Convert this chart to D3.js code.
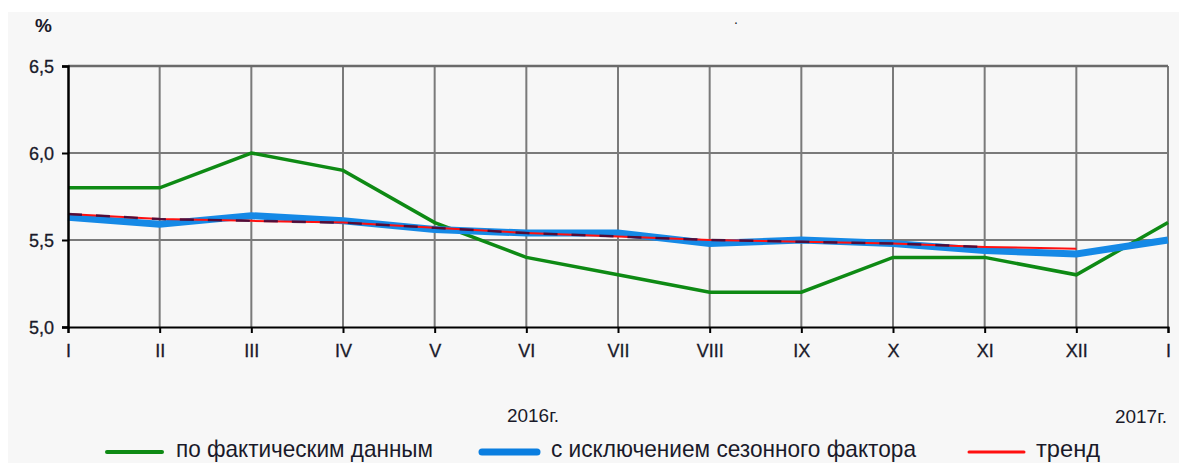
<!DOCTYPE html>
<html>
<head>
<meta charset="utf-8">
<script src="https://cdn.jsdelivr.net/npm/d3@7"></script>
<style>
  body { margin: 0; background: #fff; }
  text { font-family: "Liberation Sans", Arial, sans-serif; fill: #1a1a2a; }
</style>
</head>
<body>
<script>
// months along the x axis (2016 I..XII, then 2017 I)
var months = ['I','II','III','IV','V','VI','VII','VIII','IX','X','XI','XII','I']
var yTicks = [5.0, 5.5, 6.0, 6.5]
// series values
var actual   = [5.8, 5.8, 6.0, 5.9, 5.6, 5.4, 5.3, 5.2, 5.2, 5.4, 5.4, 5.3, 5.6]
var seasonal = [5.63, 5.59, 5.64, 5.61, 5.56, 5.54, 5.54, 5.48, 5.5, 5.48, 5.44, 5.42, 5.5]
var trend    = [5.65, 5.62, 5.61, 5.6, 5.57, 5.54, 5.52, 5.5, 5.49, 5.48, 5.46, 5.45]
var legendNames = ['по фактическим данным', 'с исключением сезонного фактора', 'тренд']

var svg = d3.select('body').append('svg')
    .attr('width', 1179)
    .attr('height', 463)

// grey panel
svg.append('rect').attr('x', 8).attr('y', 12).attr('width', 1171).attr('height', 451).style('fill', '#f7f7f7')

var x = d3.scaleLinear().domain([0, months.length - 1]).range([68, 1168])
var y = d3.scaleLinear().domain([5.0, 6.5]).range([327, 66])

var g = svg.append('g')

// vertical grid
g.selectAll('.vgrid')
  .data(d3.range(1, months.length))
  .enter().append('line')
  .attr('x1', d => x(d)).attr('x2', d => x(d))
  .attr('y1', y(6.5)).attr('y2', y(5.0))
  .style('stroke', '#7a7a7a').style('stroke-width', 2)

// horizontal grid
g.selectAll('.hgrid')
  .data(yTicks.slice(1))
  .enter().append('line')
  .attr('x1', x(0)).attr('x2', x(12))
  .attr('y1', d => y(d)).attr('y2', d => y(d))
  .style('stroke', d => d == 6.5 ? '#6a6a6a' : '#7a7a7a')
  .style('stroke-width', d => d == 6.5 ? 2.5 : 2)

// axes
var yAxis = d3.axisLeft(y).tickValues(yTicks).tickSize(6).tickFormat(d => d3.format('.1f')(d).replace('.', ','))
var xAxis = d3.axisBottom(x).tickValues(d3.range(months.length)).tickSize(6).tickFormat(i => months[i])

var ya = svg.append('g').attr('transform', 'translate(68,0)').call(yAxis)
ya.select('.domain').style('stroke', '#000').style('stroke-width', 2.5)
ya.selectAll('.tick line').style('stroke', '#000').style('stroke-width', 2)
ya.selectAll('.tick text').attr('x', -14).attr('dy', '0.36em')
  .style('font-size', '18px').style('fill', '#1a1a2a').style('stroke', '#1a1a2a').style('stroke-width', 0.3)

var xa = svg.append('g').attr('transform', 'translate(0,327)').call(xAxis)
xa.select('.domain').style('stroke', '#000').style('stroke-width', 2)
xa.selectAll('.tick line').style('stroke', '#000').style('stroke-width', 2)
xa.selectAll('.tick text').attr('y', 17)
  .style('font-size', '18px').style('fill', '#1a1a2a').style('stroke', '#1a1a2a').style('stroke-width', 0.3)

// lines
var line = d3.line().x((d, i) => x(i)).y(d => y(d))

g.append('path').datum(actual).attr('d', line)
  .style('fill', 'none').style('stroke', '#0e8a14').style('stroke-width', 3.5)
g.append('path').datum(seasonal).attr('d', line)
  .style('fill', 'none').style('stroke', '#1589e6').style('stroke-width', 7)
g.append('path').datum(trend).attr('d', line)
  .style('fill', 'none').style('stroke', '#ff1010').style('stroke-width', 2)
// dark dashes where trend lies over the blue band
g.append('path').datum(trend.slice(0, 11)).attr('d', line)
  .style('fill', 'none').style('stroke', '#2a0a40').style('stroke-width', 2.5)
  .style('stroke-dasharray', '14,14').style('opacity', 0.8)

// labels
svg.append('text').attr('x', 35).attr('y', 32).text('%')
  .style('font-size', '19px').style('font-weight', 'bold')
svg.append('text').attr('x', 734).attr('y', 24).text('.').style('font-size', '14px')
svg.append('text').attr('x', 507).attr('y', 422).text('2016г.')
  .attr('textLength', 52).attr('lengthAdjust', 'spacingAndGlyphs')
  .style('font-size', '18px')
svg.append('text').attr('x', 1115).attr('y', 423).text('2017г.')
  .attr('textLength', 52).attr('lengthAdjust', 'spacingAndGlyphs')
  .style('font-size', '18px')

// legend
var legendColors = ['#0e8a14', '#0a7ee0', '#ff1010']
var legendWidths = [4, 7, 3]
var legendLineX = [107, 482, 969]
var legendTextX = [176, 551, 1036]
var legendTextW = [257, 365, 64]
var leg = svg.append('g').attr('class', 'legend')
leg.selectAll('line').data(legendNames).enter().append('line')
  .attr('x1', (d, i) => legendLineX[i]).attr('x2', (d, i) => legendLineX[i] + 55)
  .attr('y1', 452).attr('y2', 452)
  .style('stroke', (d, i) => legendColors[i])
  .style('stroke-width', (d, i) => legendWidths[i])
  .style('stroke-linecap', 'round')
leg.selectAll('text').data(legendNames).enter().append('text')
  .attr('x', (d, i) => legendTextX[i]).attr('y', 457)
  .attr('textLength', (d, i) => legendTextW[i]).attr('lengthAdjust', 'spacingAndGlyphs')
  .text(d => d)
  .style('font-size', '24px')
</script>
</body>
</html>
